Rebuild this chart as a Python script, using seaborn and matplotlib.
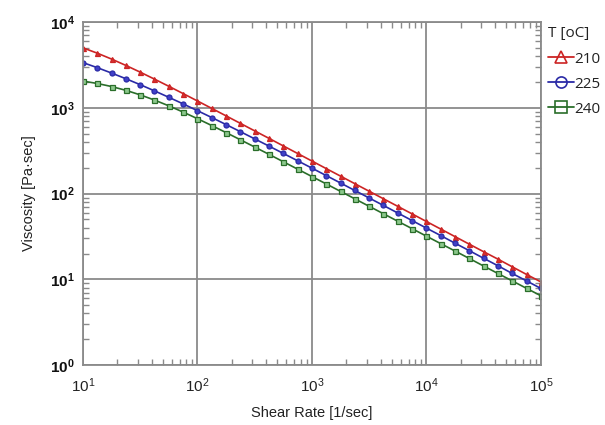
import numpy as np
import pandas as pd
import seaborn as sns
import matplotlib
matplotlib.use("Agg")
import matplotlib.pyplot as plt
from matplotlib.lines import Line2D
from matplotlib.ticker import LogLocator, NullFormatter

# ---- data ----
shear_rate = [10 ** (1 + k / 8) for k in range(33)]
visc_210 = [5012, 4345, 3708, 3126, 2610, 2164, 1785, 1468, 1204, 986.3, 807.0,
            659.6, 539.1, 441.0, 360.0, 293.9, 239.9, 195.8, 159.9, 130.5, 106.5,
            87.0, 71.0, 57.98, 47.3, 38.6, 31.5, 25.7, 21.0, 17.2, 14.0, 11.4, 9.33]
visc_225 = [3371, 2944, 2547, 2187, 1864, 1578, 1328, 1113, 927.7, 771.2, 638.8,
            527.9, 435.1, 358.2, 294.4, 241.6, 198.2, 162.3, 132.9, 108.7, 88.9,
            72.7, 59.4, 48.5, 39.6, 32.4, 26.4, 21.6, 17.6, 14.4, 11.7, 9.59, 7.83]
visc_240 = [2051, 1925, 1773, 1601, 1418, 1233, 1056, 893.2, 748.2, 622.3, 515.0,
            424.7, 349.4, 287.1, 235.4, 193.0, 158.2, 129.7, 106.2, 86.9, 71.1,
            58.2, 47.6, 39.0, 31.9, 26.1, 21.4, 17.5, 14.3, 11.7, 9.59, 7.85, 6.43]
temps = ["210", "225", "240"]

colors = {"210": "#cc2424", "225": "#2a2aa6", "240": "#2a6e2a"}
markers = {"210": "^", "225": "o", "240": "s"}
faces = {"210": "#d83030", "225": "#4040c8", "240": "#8cc88c"}

df = pd.concat([
    pd.DataFrame({"Shear Rate": shear_rate, "Viscosity": v, "T": t})
    for t, v in zip(temps, [visc_210, visc_225, visc_240])
])

sns.set_theme(style="white")
plt.rcParams["font.family"] = ["Liberation Sans", "DejaVu Sans"]

fig = plt.figure(figsize=(6.05, 4.25), dpi=100)
ax = fig.add_axes([0.137, 0.141, 0.757, 0.807])

for t in temps:
    sub = df[df["T"] == t]
    sns.lineplot(data=sub, x="Shear Rate", y="Viscosity", ax=ax,
                 color=colors[t], marker=markers[t], markersize=3.6,
                 markerfacecolor=faces[t], markeredgecolor=colors[t],
                 markeredgewidth=0.9, linewidth=1.2, legend=False)

ax.set_xscale("log")
ax.set_yscale("log")
ax.set_xlim(10, 1e5)
ax.set_ylim(1, 1e4)

grid_c = "#8a8a8a"
ax.grid(True, which="major", color=grid_c, linewidth=1.3)
for s in ax.spines.values():
    s.set_color(grid_c)
    s.set_linewidth(1.3)
    s.set_visible(True)

ax.xaxis.set_major_locator(LogLocator(base=10, numticks=10))
ax.yaxis.set_major_locator(LogLocator(base=10, numticks=10))
ax.xaxis.set_minor_locator(LogLocator(base=10, subs=np.arange(2, 10), numticks=20))
ax.yaxis.set_minor_locator(LogLocator(base=10, subs=np.arange(2, 10), numticks=20))
ax.xaxis.set_minor_formatter(NullFormatter())
ax.yaxis.set_minor_formatter(NullFormatter())
ax.tick_params(which="minor", direction="in", length=4, width=1, color=grid_c,
               top=True, right=True, bottom=True, left=True)
ax.tick_params(which="major", direction="in", length=0, top=True, right=True)
ax.tick_params(axis="x", which="major", labelsize=11, pad=8, labelcolor="#222222")
ax.tick_params(axis="y", which="major", labelsize=11, pad=6, labelcolor="#111111")
for lab in ax.get_yticklabels():
    lab.set_fontweight("bold")

ax.set_xlabel("Shear Rate [1/sec]", fontsize=10.5, labelpad=8, color="#222222")
ax.set_ylabel("Viscosity [Pa·sec]", fontsize=10.5, labelpad=10, color="#222222")

handles = [Line2D([0], [0], color=colors[t], marker=markers[t], markersize=8,
                  markerfacecolor="none", markeredgecolor=colors[t],
                  markeredgewidth=1.2, linewidth=1.3) for t in temps]
leg = ax.legend(handles, temps, title="T [oC]", loc="upper left",
                bbox_to_anchor=(0.995, 1.014), frameon=False, fontsize=11,
                title_fontsize=11, handlelength=1.7, handletextpad=0.05,
                labelspacing=0.66, borderaxespad=0.2)
leg._legend_box.align = "left"
for txt in leg.get_texts():
    txt.set_family(["Open Sans", "DejaVu Sans"])
    txt.set_color("#222222")
leg.get_title().set_family(["Open Sans", "DejaVu Sans"])
leg.get_title().set_color("#222222")

fig.savefig("out.png", dpi=100, facecolor="white")
